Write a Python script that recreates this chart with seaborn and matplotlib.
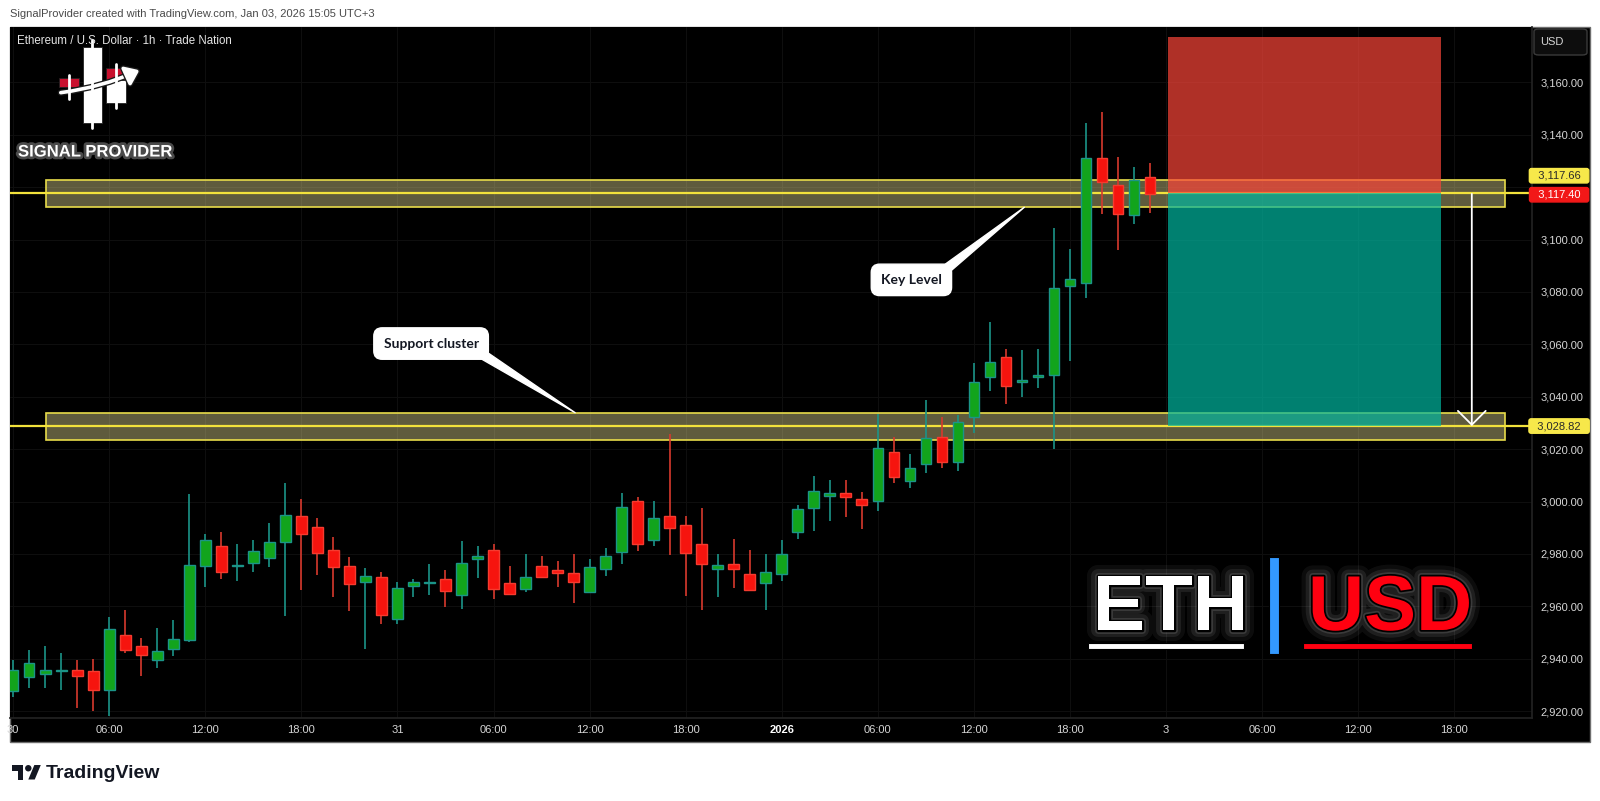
import matplotlib
matplotlib.use("Agg")
import matplotlib.pyplot as plt
import matplotlib.patches as mpatches
import matplotlib.patheffects as pe
from matplotlib import font_manager
from matplotlib.lines import Line2D
from matplotlib.transforms import blended_transform_factory
import numpy as np
import seaborn as sns

# ETH/USD 1h bars (Trade Nation), Dec 30 00:00 -> Jan 2 23:00
opens = [2927.7, 2932.9, 2934.3, 2935.2, 2935.6, 2935.2, 2928.1, 2949.2, 2944.9, 2939.4,
         2943.7, 2947.0, 2975.5, 2982.9, 2975.4, 2976.4, 2978.4, 2984.5, 2994.3, 2990.4,
         2981.6, 2975.3, 2969.4, 2971.3, 2955.0, 2967.8, 2968.9, 2970.3, 2964.4, 2978.1,
         2981.4, 2968.9, 2966.7, 2975.4, 2973.7, 2972.6, 2965.3, 2974.1, 2980.9, 3000.1,
         2985.4, 2994.3, 2990.9, 2983.7, 2974.1, 2976.0, 2972.2, 2968.8, 2972.2, 2988.5,
         2997.5, 3002.0, 3003.1, 3001.1, 3000.2, 3018.8, 3007.7, 3014.3, 3024.8, 3015.2,
         3032.1, 3047.6, 3055.3, 3045.8, 3047.4, 3048.3, 3082.3, 3083.5, 3131.2, 3120.7,
         3109.2, 3123.7]
highs = [2939.5, 2943.2, 2944.8, 2942.2, 2939.5, 2939.8, 2955.8, 2958.5, 2947.8, 2951.6,
         2954.9, 3002.9, 2987.5, 2988.2, 2983.7, 2985.4, 2991.7, 3007.1, 3000.8, 2993.6,
         2986.3, 2978.8, 2974.8, 2973.1, 2969.2, 2970.4, 2976.1, 2973.9, 2984.8, 2983.0,
         2983.7, 2975.4, 2979.8, 2979.2, 2977.3, 2979.8, 2978.1, 2982.1, 3003.2, 3001.7,
         3000.2, 3025.6, 2994.3, 2997.5, 2980.1, 2985.7, 2981.5, 2980.1, 2985.2, 2998.5,
         3009.9, 3008.2, 3008.2, 3003.5, 3033.4, 3024.5, 3018.1, 3038.6, 3032.1, 3033.0,
         3052.7, 3068.4, 3058.1, 3057.8, 3058.1, 3104.5, 3096.4, 3144.3, 3148.5, 3131.5,
         3127.7, 3129.2]
lows = [2925.5, 2928.8, 2928.8, 2928.1, 2921.4, 2920.2, 2918.3, 2942.3, 2933.5, 2936.6,
        2941.2, 2946.5, 2967.4, 2970.4, 2969.8, 2973.0, 2975.1, 2956.4, 2966.4, 2972.0,
        2963.7, 2958.2, 2943.8, 2953.4, 2953.1, 2963.7, 2964.3, 2959.9, 2959.0, 2970.9,
        2962.7, 2964.5, 2965.6, 2970.9, 2967.4, 2961.4, 2965.3, 2971.7, 2976.0, 2981.1,
        2983.1, 2979.7, 2964.1, 2958.6, 2963.7, 2967.2, 2966.0, 2958.6, 2969.7, 2985.9,
        2988.9, 2992.7, 2994.2, 2989.6, 2996.5, 3006.9, 3005.2, 3010.8, 3012.9, 3011.8,
        3026.0, 3042.3, 3037.3, 3040.0, 3043.3, 3019.9, 3053.8, 3077.8, 3109.9, 3096.1,
        3105.8, 3110.0]
closes = [2935.6, 2938.2, 2935.6, 2935.5, 2933.3, 2928.1, 2951.5, 2943.5, 2941.3, 2943.1,
          2947.4, 2975.6, 2985.2, 2973.1, 2975.9, 2981.0, 2984.7, 2994.7, 2987.5, 2980.2,
          2975.1, 2968.4, 2971.6, 2956.7, 2966.9, 2969.3, 2969.0, 2966.0, 2976.7, 2979.1,
          2966.7, 2964.7, 2971.3, 2971.3, 2972.7, 2969.4, 2974.9, 2979.1, 2998.0, 2983.8,
          2993.6, 2989.8, 2980.5, 2976.1, 2975.6, 2974.1, 2966.3, 2973.2, 2980.0, 2997.1,
          3004.1, 3003.1, 3001.6, 2998.5, 3020.4, 3009.5, 3012.7, 3024.1, 3015.2, 3030.2,
          3045.7, 3053.1, 3044.1, 3046.1, 3048.2, 3081.4, 3084.9, 3131.2, 3121.8, 3109.6,
          3122.7, 3117.4]

tick_pos = [0, 6, 12, 18, 24, 30, 36, 42, 48, 54, 60, 66, 72, 78, 84, 90]
tick_labels = ["30", "06:00", "12:00", "18:00", "31", "06:00", "12:00", "18:00",
               "2026", "06:00", "12:00", "18:00", "3", "06:00", "12:00", "18:00"]
price_ticks = [2920, 2940, 2960, 2980, 3000, 3020, 3040, 3060, 3080, 3100, 3120, 3140, 3160]
hidden_price_labels = [3120]  # covered by the price tags on the scale

key_zone = (3112.3, 3122.7)
key_level = 3117.66
support_zone = (3023.4, 3033.9)
support_level = 3028.82
last_price = 3117.40
stop_price = 3177.2
zone_span = (2.04, 93.17)
trade_span = (72.1, 89.2)
arrow_bar = 91.1

key_note = ("Key Level", (56.1, 3084.6), (63.15, 3112.3))
support_note = ("Support cluster", (26.1, 3060.3), (35.1, 3033.9))

W, H = 1600, 801

sns.set_theme(style="dark", rc={"axes.facecolor": "black", "figure.facecolor": "white",
                                "grid.color": "#0e0e0e"})
names = {f.name for f in font_manager.fontManager.ttflist}
NARROW = "Liberation Sans Narrow" if "Liberation Sans Narrow" in names else "Liberation Sans"
BIG = 67 if NARROW == "Liberation Sans Narrow" else 56
plt.rcParams["font.family"] = ["Liberation Sans", "DejaVu Sans"]


def fx(px):
    return px / W


def fy(py):
    return 1 - py / H


def frect(x0, y0, x1, y1, **kw):
    fig.add_artist(mpatches.Rectangle((fx(x0), fy(y1)), (x1 - x0) / W, (y1 - y0) / H,
                                      transform=fig.transFigure, **kw))


fig = plt.figure(figsize=(16, 8.01), dpi=100, facecolor="white")

# dark chart panel
frect(10, 27, 1590, 742, facecolor="black", edgecolor="#6e6e6e", lw=1, zorder=0)

ax = fig.add_axes([fx(10), fy(718), (1532 - 10) / W, (718 - 27) / H])
ax.set_facecolor("black")
ax.set_xlim(-0.2, 94.86)
ax.set_ylim(2917.4, 3181.1)

o = np.array(opens)
c = np.array(closes)
h = np.array(highs)
l = np.array(lows)
x = np.arange(len(o))
up = c >= o

fill = np.where(up, "#12a41c", "#f6140e")
edge = np.where(up, "#1b9488", "#f53b2f")
wick = np.where(up, "#1b9488", "#d8392d")

# zones
for lo, hi in (key_zone, support_zone):
    ax.add_patch(mpatches.Rectangle((zone_span[0], lo), zone_span[1] - zone_span[0], hi - lo,
                                    facecolor=(0.94, 0.9, 0.6, 0.4), edgecolor="#e8dc4a",
                                    lw=1.2, zorder=1))
for lvl in (key_level, support_level):
    ax.axhline(lvl, color="#f2e23c", lw=1.6, zorder=1.5)

ax.vlines(x, l, h, colors=wick, lw=1.2, zorder=3)
ax.bar(x, np.maximum(np.abs(c - o), 0.45), bottom=np.minimum(o, c), width=0.66,
       color=fill, edgecolor=edge, linewidth=1, zorder=4)

# short position box
ax.add_patch(mpatches.Rectangle((trade_span[0], key_level), trade_span[1] - trade_span[0],
                                stop_price - key_level, facecolor=(0.984, 0.27, 0.224),
                                alpha=0.7, lw=0, zorder=5))
ax.add_patch(mpatches.Rectangle((trade_span[0], support_level), trade_span[1] - trade_span[0],
                                key_level - support_level, facecolor=(0.0, 0.718, 0.627),
                                alpha=0.7, lw=0, zorder=5))
ax.annotate("", xy=(arrow_bar, support_level), xytext=(arrow_bar, last_price),
            arrowprops=dict(arrowstyle="->,head_length=0.5,head_width=0.5", color="white",
                            lw=1.3, mutation_scale=20, shrinkA=0, shrinkB=0), zorder=6)

# callouts
for (txt, pos, tip), rel in ((key_note, (0.96, 0.96)), (support_note, (0.95, 0.04))):
    ax.annotate(txt, xy=tip, xytext=pos, ha="center", va="center", fontsize=10,
                fontweight="bold", family=["Lato", "DejaVu Sans"], color="#131722",
                bbox=dict(boxstyle="round,pad=0.7,rounding_size=0.6", fc="white", ec="white"),
                arrowprops=dict(arrowstyle="wedge,tail_width=0.7,shrink_factor=0.5",
                                fc="white", ec="white", relpos=rel, patchA=None,
                                shrinkA=0, shrinkB=0),
                zorder=7)

# axes styling
ax.set_xticks(tick_pos)
ax.set_xticklabels(tick_labels)
ax.yaxis.tick_right()
ax.set_yticks(price_ticks)
ax.set_yticklabels(["" if p in hidden_price_labels else f"{p:,.2f}" for p in price_ticks])
ax.tick_params(axis="both", length=0, colors="#d6d6d6", labelsize=8)
ax.tick_params(axis="y", pad=6)
ax.tick_params(axis="x", pad=5)
for t in ax.get_xticklabels() + ax.get_yticklabels():
    t.set_family([NARROW, "DejaVu Sans"])
ax.get_xticklabels()[8].set_fontweight("bold")
ax.get_xticklabels()[8].set_color("white")
ax.grid(True, color="#0e0e0e", lw=0.8)
for s in ax.spines.values():
    s.set_visible(False)
ax.spines["right"].set_visible(True)
ax.spines["right"].set_color("#222222")
ax.spines["bottom"].set_visible(True)
ax.spines["bottom"].set_color("#222222")

# price tags on the scale
trans = blended_transform_factory(ax.transAxes, ax.transData)
for price, dy, fc, tc in ((key_level, 12.6, "#f7e84a", "#2a2a2a"),
                          (last_price, -0.6, "#f21818", "white"),
                          (support_level, 0, "#f7e84a", "#2a2a2a")):
    ax.annotate(f"  {price:,.2f}  ", xy=(1, price), xycoords=trans, xytext=(19.5, dy),
                textcoords="offset points", ha="center", va="center", fontsize=8,
                family=[NARROW, "DejaVu Sans"], color=tc, annotation_clip=False,
                bbox=dict(boxstyle="round,pad=0.2,rounding_size=0.2", fc=fc, ec=fc), zorder=8)

# USD button
fig.add_artist(mpatches.FancyBboxPatch((fx(1534), fy(55)), 53 / W, 26 / H,
                                       boxstyle="round,pad=0,rounding_size=0.003",
                                       transform=fig.transFigure, fc="#0d0d0d", ec="#3a3a3a", lw=1))
fig.text(fx(1552), fy(42), "USD", color="#d6d6d6", fontsize=8, ha="center", va="center",
         family=[NARROW, "DejaVu Sans"])

# header and titles
fig.text(fx(10), fy(14), "SignalProvider created with TradingView.com, Jan 03, 2026 15:05 UTC+3",
         color="#4a4a4a", fontsize=8, va="center", family=[NARROW, "DejaVu Sans"])
fig.text(fx(17), fy(41), "Ethereum / U.S. Dollar · 1h · Trade Nation",
         color="#e6e6e6", fontsize=8.3, va="center", family=[NARROW, "DejaVu Sans"], zorder=10)

# Signal Provider logo
for xw, y0, y1 in ((92, 40, 128), (68.5, 75, 99), (116, 64, 108)):
    fig.add_artist(Line2D([fx(xw), fx(xw)], [fy(y0), fy(y1)], color="white", lw=2,
                          transform=fig.transFigure))
frect(82.7, 46.7, 101.7, 123.3, facecolor="white", edgecolor="#222", lw=0.6)
frect(59.3, 78.3, 78.7, 87.3, facecolor="#c8102e", edgecolor="#222", lw=0.6)
frect(106, 68.3, 125.7, 80, facecolor="#c8102e", edgecolor="#222", lw=0.6)
frect(106, 80, 125.7, 103.3, facecolor="white", edgecolor="#222", lw=0.6)
fig.add_artist(mpatches.FancyArrowPatch((fx(58), fy(93)), (fx(142), fy(69)),
                                        transform=fig.transFigure,
                                        connectionstyle="arc3,rad=0.08",
                                        arrowstyle="-|>,head_length=0.4,head_width=0.3",
                                        mutation_scale=20, color="white", lw=2.6,
                                        path_effects=[pe.withStroke(linewidth=4.5, foreground="#1a1a1a")]))
fig.text(fx(18), fy(152), "SIGNAL PROVIDER", color="white", fontsize=12, fontweight="bold",
         va="center", family=["Liberation Sans", "DejaVu Sans"],
         path_effects=[pe.withStroke(linewidth=4, foreground="#4a4a4a")])

# ETH | USD badge
glow = [pe.withStroke(linewidth=16, foreground=(1, 1, 1, 0.05)),
        pe.withStroke(linewidth=10, foreground=(1, 1, 1, 0.08)),
        pe.withStroke(linewidth=5, foreground=(1, 1, 1, 0.12)),
        pe.withStroke(linewidth=2.5, foreground="black")]
fig.text(fx(1093), fy(630), "ETH", color="white", fontsize=BIG, fontweight="bold",
         family=[NARROW, "DejaVu Sans"], va="baseline", ha="left", path_effects=glow)
fig.text(fx(1308), fy(630), "USD", color="#ff0010", fontsize=BIG, fontweight="bold",
         family=[NARROW, "DejaVu Sans"], va="baseline", ha="left", path_effects=glow)
frect(1088, 643, 1244, 649, facecolor="white", edgecolor="black", lw=0.8)
frect(1303, 643, 1472, 649, facecolor="#ff0010", edgecolor="black", lw=0.8)
frect(1269, 557, 1279, 654, facecolor="#3399ff", edgecolor="black", lw=0.8)

# TradingView footer
s = 0.805
ox, oy = 12.2, 761.8
def tv(pts):
    return [(fx(ox + u * s), fy(oy + v * s)) for u, v in pts]
fig.add_artist(mpatches.Polygon(tv([(14, 22), (7, 22), (7, 11), (0, 11), (0, 4), (14, 4)]),
                                closed=True, transform=fig.transFigure, fc="#131722", ec="none"))
fig.add_artist(mpatches.Polygon(tv([(28, 22), (20, 22), (27.5, 4), (35.5, 4)]),
                                closed=True, transform=fig.transFigure, fc="#131722", ec="none"))
fig.add_artist(mpatches.Ellipse((fx(ox + 20 * s), fy(oy + 8 * s)), 8 * s / W, 8 * s / H,
                                transform=fig.transFigure, fc="#131722", ec="none"))
fig.text(fx(46), fy(773), "TradingView", color="#131722", fontsize=14, fontweight="bold",
         va="center", family=["Liberation Sans", "DejaVu Sans"])

fig.savefig("out.png", dpi=100, facecolor="white")
